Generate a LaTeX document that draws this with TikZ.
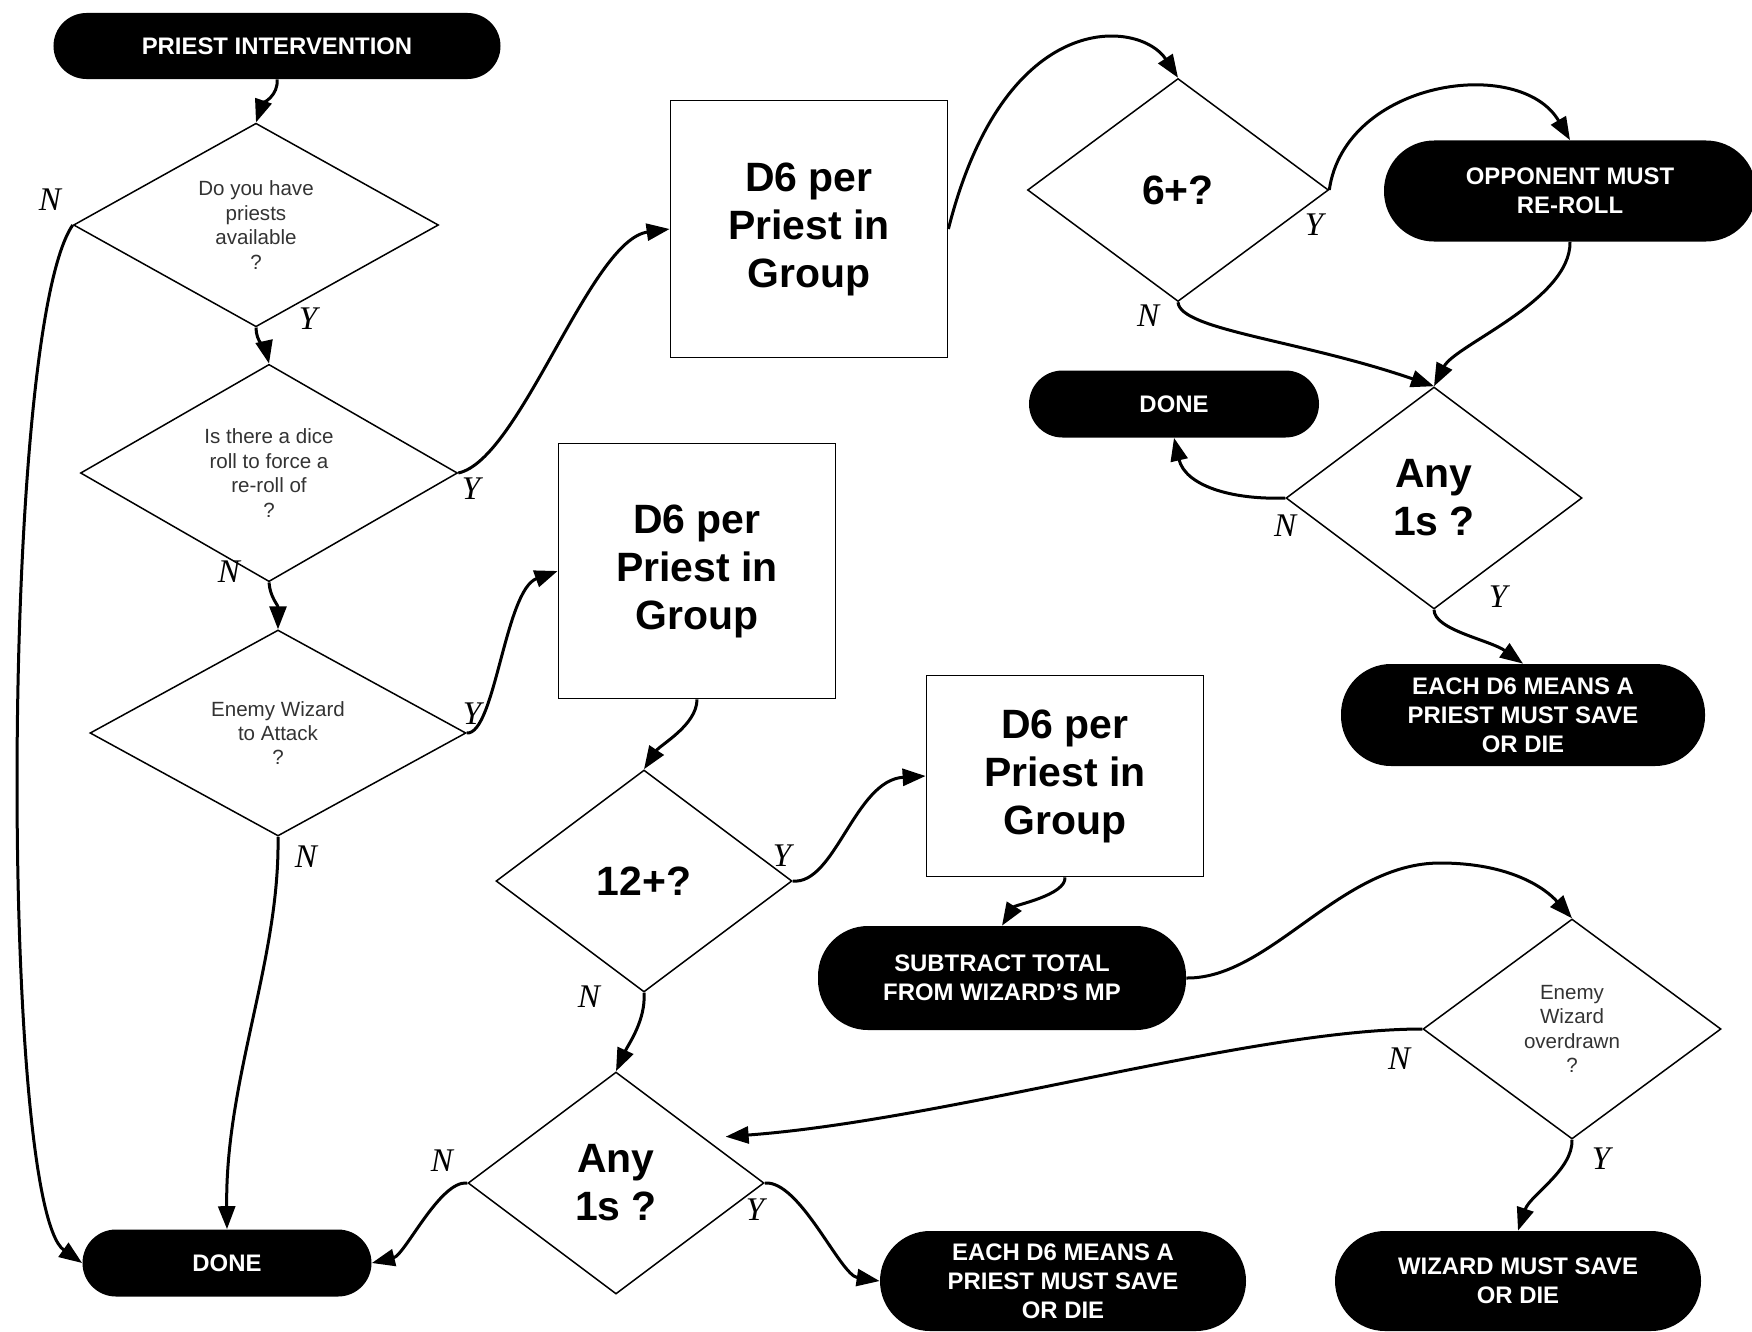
\documentclass[tikz,border=0pt]{standalone}
\usepackage{fontspec}
\setmainfont{Liberation Sans}
\newfontfamily\yesnofont{Liberation Serif}
\usepackage{tikz}
\usetikzlibrary{arrows.meta,shapes.geometric}
\definecolor{asktext}{HTML}{333333}

\begin{document}
\begin{tikzpicture}[
  x=0.2mm, y=0.2mm,
  decision/.style={diamond,draw,line width=0.3mm,inner sep=0pt,align=center,minimum width=59.2mm,minimum height=44.4mm},
  smallask/.style={font=\fontsize{11.7}{13.9}\selectfont,text=asktext},
  bigask/.style={font=\bfseries\fontsize{23.3}{27.3}\selectfont},
  procbox/.style={draw,line width=0.35mm,align=center,minimum width=55.4mm,font=\bfseries\fontsize{23.3}{27.3}\selectfont},
  term/.style={fill=black,text=white,align=center,rounded corners=10mm,minimum width=73.2mm,minimum height=20mm,font=\bfseries\fontsize{13.6}{16.5}\selectfont},
  yesno/.style={font=\yesnofont\itshape\fontsize{18.8}{20}\selectfont,inner sep=0pt},
  arr/.style={-{Triangle[length=4.6mm,width=3.4mm]},line width=0.6mm}
]
\useasboundingbox (0,0) rectangle (1752,-1331);

% left column
\node[term,minimum width=89.4mm,minimum height=13.2mm,rounded corners=6.6mm] (start) at (277,-46) {PRIEST INTERVENTION};
\node[decision,smallask,minimum width=73mm,minimum height=40.4mm] (havepriests) at (256,-225) {Do you have\\priests\\available\\?};
\node[decision,smallask,minimum width=75.4mm,minimum height=41.2mm] (forcereroll) at (269,-473) {Is there a dice\\roll to force a\\re-roll of\\?};
\node[decision,smallask,minimum width=75.2mm,minimum height=41.2mm] (wizattack) at (278,-733) {Enemy Wizard\\to Attack\\?};
\node[term,minimum width=57.8mm,minimum height=13.4mm,rounded corners=6.7mm] (doneleft) at (227,-1263) {DONE};

% re-roll branch
\node[procbox,minimum height=51.4mm] (rollA) at (809,-229) {D6 per\\Priest in\\Group};
\node[decision,bigask,minimum width=60.2mm,minimum height=44.6mm] (sixup) at (1178,-190) {6+?};
\node[term,minimum width=74.4mm,minimum height=20.2mm] (opponent) at (1570,-191) {OPPONENT MUST\\RE-ROLL};
\node[decision,bigask] (onesA) at (1434,-498) {Any\\1s ?};
\node[term,minimum width=58mm,minimum height=13.4mm,rounded corners=6.7mm] (doneright) at (1174,-404) {DONE};
\node[term,minimum width=72.8mm,minimum height=20.4mm] (saveA) at (1523,-715) {EACH D6 MEANS A\\PRIEST MUST SAVE\\OR DIE};

% wizard branch
\node[procbox,minimum height=51mm] (rollB) at (697,-571) {D6 per\\Priest in\\Group};
\node[decision,bigask] (twelveup) at (644,-881) {12+?};
\node[procbox,minimum height=40.2mm] (rollC) at (1065,-776) {D6 per\\Priest in\\Group};
\node[term,minimum width=73.6mm,minimum height=20.8mm] (subtract) at (1002,-978) {SUBTRACT TOTAL\\FROM WIZARD’S MP};
\node[decision,smallask,minimum width=59.6mm,minimum height=44mm] (overdrawn) at (1572,-1029) {Enemy\\Wizard\\overdrawn\\?};
\node[decision,bigask] (onesB) at (616,-1183) {Any\\1s ?};
\node[term] (saveB) at (1063,-1281) {EACH D6 MEANS A\\PRIEST MUST SAVE\\OR DIE};
\node[term] (wizsave) at (1518,-1281) {WIZARD MUST SAVE\\OR DIE};

% Y / N marks
\foreach \lname/\ltext/\lx/\ly in {n1/N/50/-200, y1/Y/308/-319, y2/Y/471/-489, n2/N/229/-572,
    y3/Y/472/-714, n3/N/306/-857, y4/Y/1314/-225, n4/N/1148/-316, n5/N/1285/-526,
    y5/Y/1498/-597, y6/Y/782/-856, n6/N/589/-997, n7/N/1399/-1059, y7/Y/1601/-1159,
    n8/N/442/-1161, y8/Y/755/-1210}
  \node[yesno] (\lname) at (\lx,\ly) {\ltext};

% connectors
\draw[arr] (start.south) .. controls (279,-95) and (262,-105) .. (havepriests.north);
\draw[arr] (havepriests.south) .. controls (256,-342) and (266,-350) .. (forcereroll.north);
\draw[arr] (havepriests.west) .. controls (0,-330) and (0,-1205) .. (doneleft.west);
\draw[arr] (forcereroll.south) .. controls (270,-597) and (278,-605) .. (wizattack.north);
\draw[arr] (wizattack.south) .. controls (280,-960) and (225,-1080) .. (doneleft.north);
\draw[arr] (forcereroll.east) .. controls (520,-460) and (590,-240) .. (rollA.west);
\draw[arr] (wizattack.east) .. controls (495,-735) and (505,-590) .. (rollB.west);
\draw[arr] (rollA.east) .. controls (1005,-5) and (1140,-20) .. (sixup.north);
\draw[arr] (sixup.east) .. controls (1345,-80) and (1520,-55) .. (opponent.north);
\draw[arr] (sixup.south) .. controls (1180,-330) and (1300,-340) .. (onesA.north);
\draw[arr] (opponent.south) .. controls (1571,-300) and (1455,-345) .. (onesA.north);
\draw[arr] (onesA.west) .. controls (1230,-500) and (1185,-485) .. (doneright.south);
\draw[arr] (onesA.south) .. controls (1434,-630) and (1490,-640) .. (saveA.north);
\draw[arr] (rollB.south) .. controls (697,-725) and (660,-745) .. (twelveup.north);
\draw[arr] (twelveup.east) .. controls (835,-885) and (855,-780) .. (rollC.west);
\draw[arr] (rollC.south) .. controls (1066,-895) and (1015,-905) .. (subtract.north);
\draw[arr] (twelveup.south) .. controls (646,-1020) and (628,-1045) .. (onesB.north);
\draw[arr] (subtract.east) .. controls (1270,-979) and (1340,-863) .. (1440,-863)
  .. controls (1510,-863) and (1545,-888) .. (overdrawn.north);
\draw[arr] (overdrawn.west) .. controls (1250,-1029) and (950,-1120) .. ([xshift=4.5mm]onesB.28);
\draw[arr] (onesB.west) .. controls (440,-1180) and (405,-1255) .. (doneleft.east);
\draw[arr] (onesB.east) .. controls (800,-1180) and (840,-1275) .. (saveB.west);
\draw[arr] (overdrawn.south) .. controls (1573,-1170) and (1530,-1195) .. (wizsave.north);
\end{tikzpicture}
\end{document}
